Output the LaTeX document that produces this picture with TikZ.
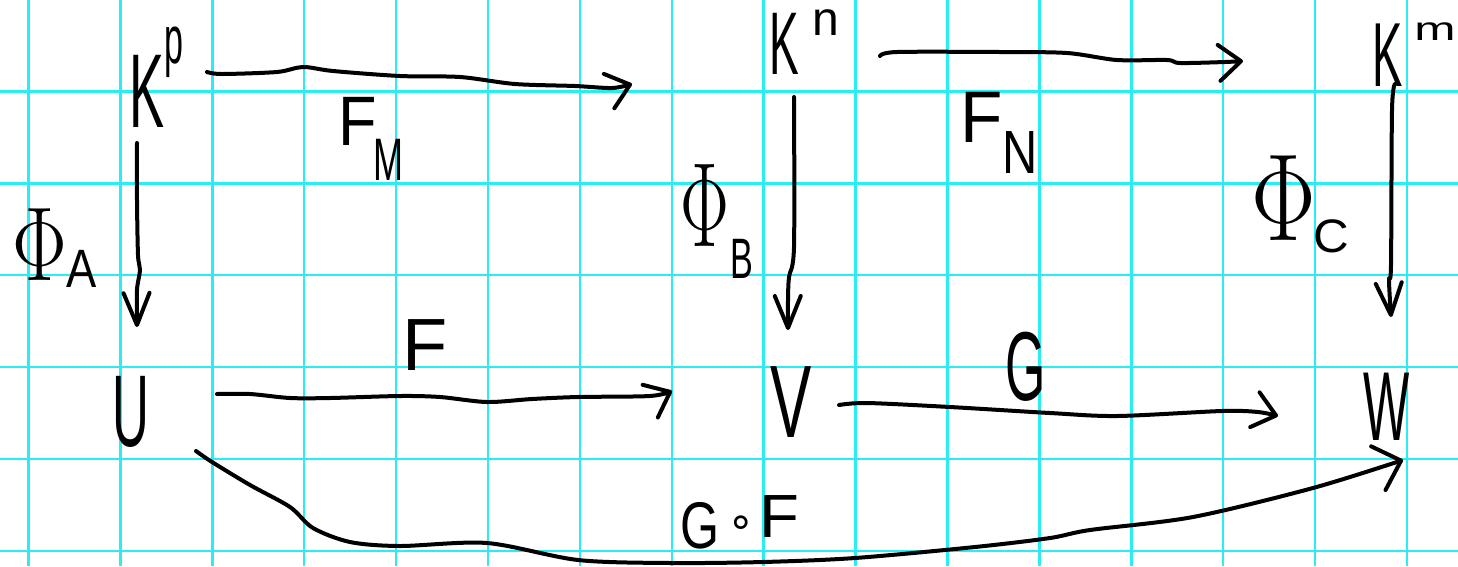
\documentclass[tikz,border=0pt]{standalone}
\usepackage{fontspec}
\usetikzlibrary{arrows.meta}
\newfontfamily\hwf{Liberation Sans}
\newfontfamily\dvs{DejaVu Sans}
\definecolor{gridc}{RGB}{40,238,242}
\newcommand\hwt[3]{\scalebox{#2}[1]{\fontsize{#1}{#1}\selectfont\hwf #3}}
\newcommand\hwphi[2]{\scalebox{#2}[1]{\fontsize{#1}{#1}\selectfont\rmfamily Φ}}
\begin{document}
\begin{tikzpicture}[x=1pt,y=-1pt,
  lbl/.style={anchor=base west, inner sep=0pt, outer sep=0pt},
  gridline/.style={gridc, line width=2.5pt},
  conn/.style={line width=4pt, line cap=round, line join=round},
  harr/.style={conn, -{Straight Barb[length=22pt,width=36pt,round]}},
  varr/.style={conn, -{Straight Barb[length=32pt,width=26pt,round]}},
  garr/.style={conn, -{Straight Barb[length=24pt,width=46pt,round]}}]
\fill[white] (0,0) rectangle (1458,566);
\useasboundingbox (0,0) rectangle (1458,566);
\foreach \i in {0,...,15} \draw[gridline] ({28.5+91.9*\i},0) -- ({28.5+91.9*\i},566);
\foreach \j in {0,...,5} \draw[gridline] (0,{91.3+91.95*\j}) -- (1458,{91.3+91.95*\j});

% main nodes
\node[lbl] (kp) at (129,127) {\hwt{105}{0.5}{K}\raisebox{64pt}{\hwt{68}{0.5}{p}}};
\node[lbl] (kn) at (769,74) {\hwt{89}{0.5}{K}\kern14pt\raisebox{39pt}{\hwt{48}{1}{n}}};
\node[lbl] (km) at (1372,86) {\hwt{91}{0.5}{K}\kern12pt\raisebox{46pt}{\hwt{33}{1.5}{m}}};
\node[lbl] (u) at (112,446) {\hwt{102}{0.5}{U}};
\node[lbl] (v) at (770,437) {\hwt{103}{0.6}{V}};
\node[lbl] (w) at (1363,440) {\hwt{98}{0.5}{W}};

% labels
\node[lbl] (lfm) at (338,145) {\hwt{70}{0.9}{F}\kern-3pt\raisebox{-35pt}{\hwt{60}{0.6}{M}}};
\node[lbl] (lfn) at (960,142) {\hwt{73}{0.95}{F}\kern0pt\raisebox{-31pt}{\hwt{61}{0.8}{N}}};
\node[lbl] (lpa) at (12.5,280) {\hwphi{105}{0.78}\kern-1pt\raisebox{-7pt}{\hwt{54}{0.84}{A}}};
\node[lbl] (lpb) at (680,246) {\hwphi{120}{0.61}\kern2pt\raisebox{-32pt}{\hwt{57}{0.6}{B}}};
\node[lbl] (lpc) at (1251.5,240) {\hwphi{124}{0.78}\kern-3pt\raisebox{-12pt}{\hwt{47}{1.05}{C}}};
\node[lbl] (lf) at (402,370) {\hwt{74}{1}{F}};
\node[lbl] (lg) at (1005,400) {\hwt{98}{0.53}{G}};
\node[lbl] (lgf) at (680.5,548) {\hwt{66}{0.76}{G}\kern8pt\raisebox{12pt}{\fontsize{44}{44}\selectfont\dvs ∘}\kern4pt\raisebox{11pt}{\hwt{61}{1.07}{F}}};

% connectors
\draw[harr] plot[smooth, tension=0.5] coordinates {([shift={(78,-55)}]kp.base west) (222,74) (277,72) (303,67) (333,71) (400,76) (460,77) (515,84) (575,86) (612,88) ([shift={(-137,10)}]kn.base west)};
\draw[harr] plot[smooth, tension=0.5] coordinates {([shift={(111,-18)}]kn.base west) (897,52) (1000,52) (1067,53) (1117,60) (1167,60) (1180,63) (1225,62) ([shift={(-129,-25)}]km.base west)};
\draw[varr] plot[smooth, tension=0.5] coordinates {([shift={(8,16)}]kp.base west) (137,200) (138,255) (140,270) (137,290) ([shift={(25,-119)}]u.base west)};
\draw[varr] plot[smooth, tension=0.5] coordinates {([shift={(25,23)}]kn.base west) (794,247) (789,277) (788,300) ([shift={(18,-107)}]v.base west)};
\draw[varr] plot[smooth, tension=0.5] coordinates {([shift={(23,-2)}]km.base west) (1392,110) (1391,265) (1389,280) ([shift={(28,-123)}]w.base west)};
\draw[harr] plot[smooth, tension=0.5] coordinates {([shift={(105,-52)}]u.base west) (250,394) (290,398) (330,398) (400,396) (440,397) (487,402) (532,399) (578,397) (650,396) ([shift={(-98,-46)}]v.base west)};
\draw[harr] plot[smooth, tension=0.5] coordinates {([shift={(69,-32)}]v.base west) (867,403) (950,407) (1050,413) (1117,416) (1222,411) (1258,412) ([shift={(-85,-24)}]w.base west)};
\draw[garr] plot[smooth, tension=0.5] coordinates {([shift={(84,5)}]u.base west) (212,462) (250,485) (290,507) (313,528) (350,542) (400,546) (487,543) (578,560) (671,563) (763,562) (855,558) (975,547) (1050,538) (1090,530) (1193,517) (1313,488) ([shift={(40,20)}]w.base west)};
\end{tikzpicture}
\end{document}
